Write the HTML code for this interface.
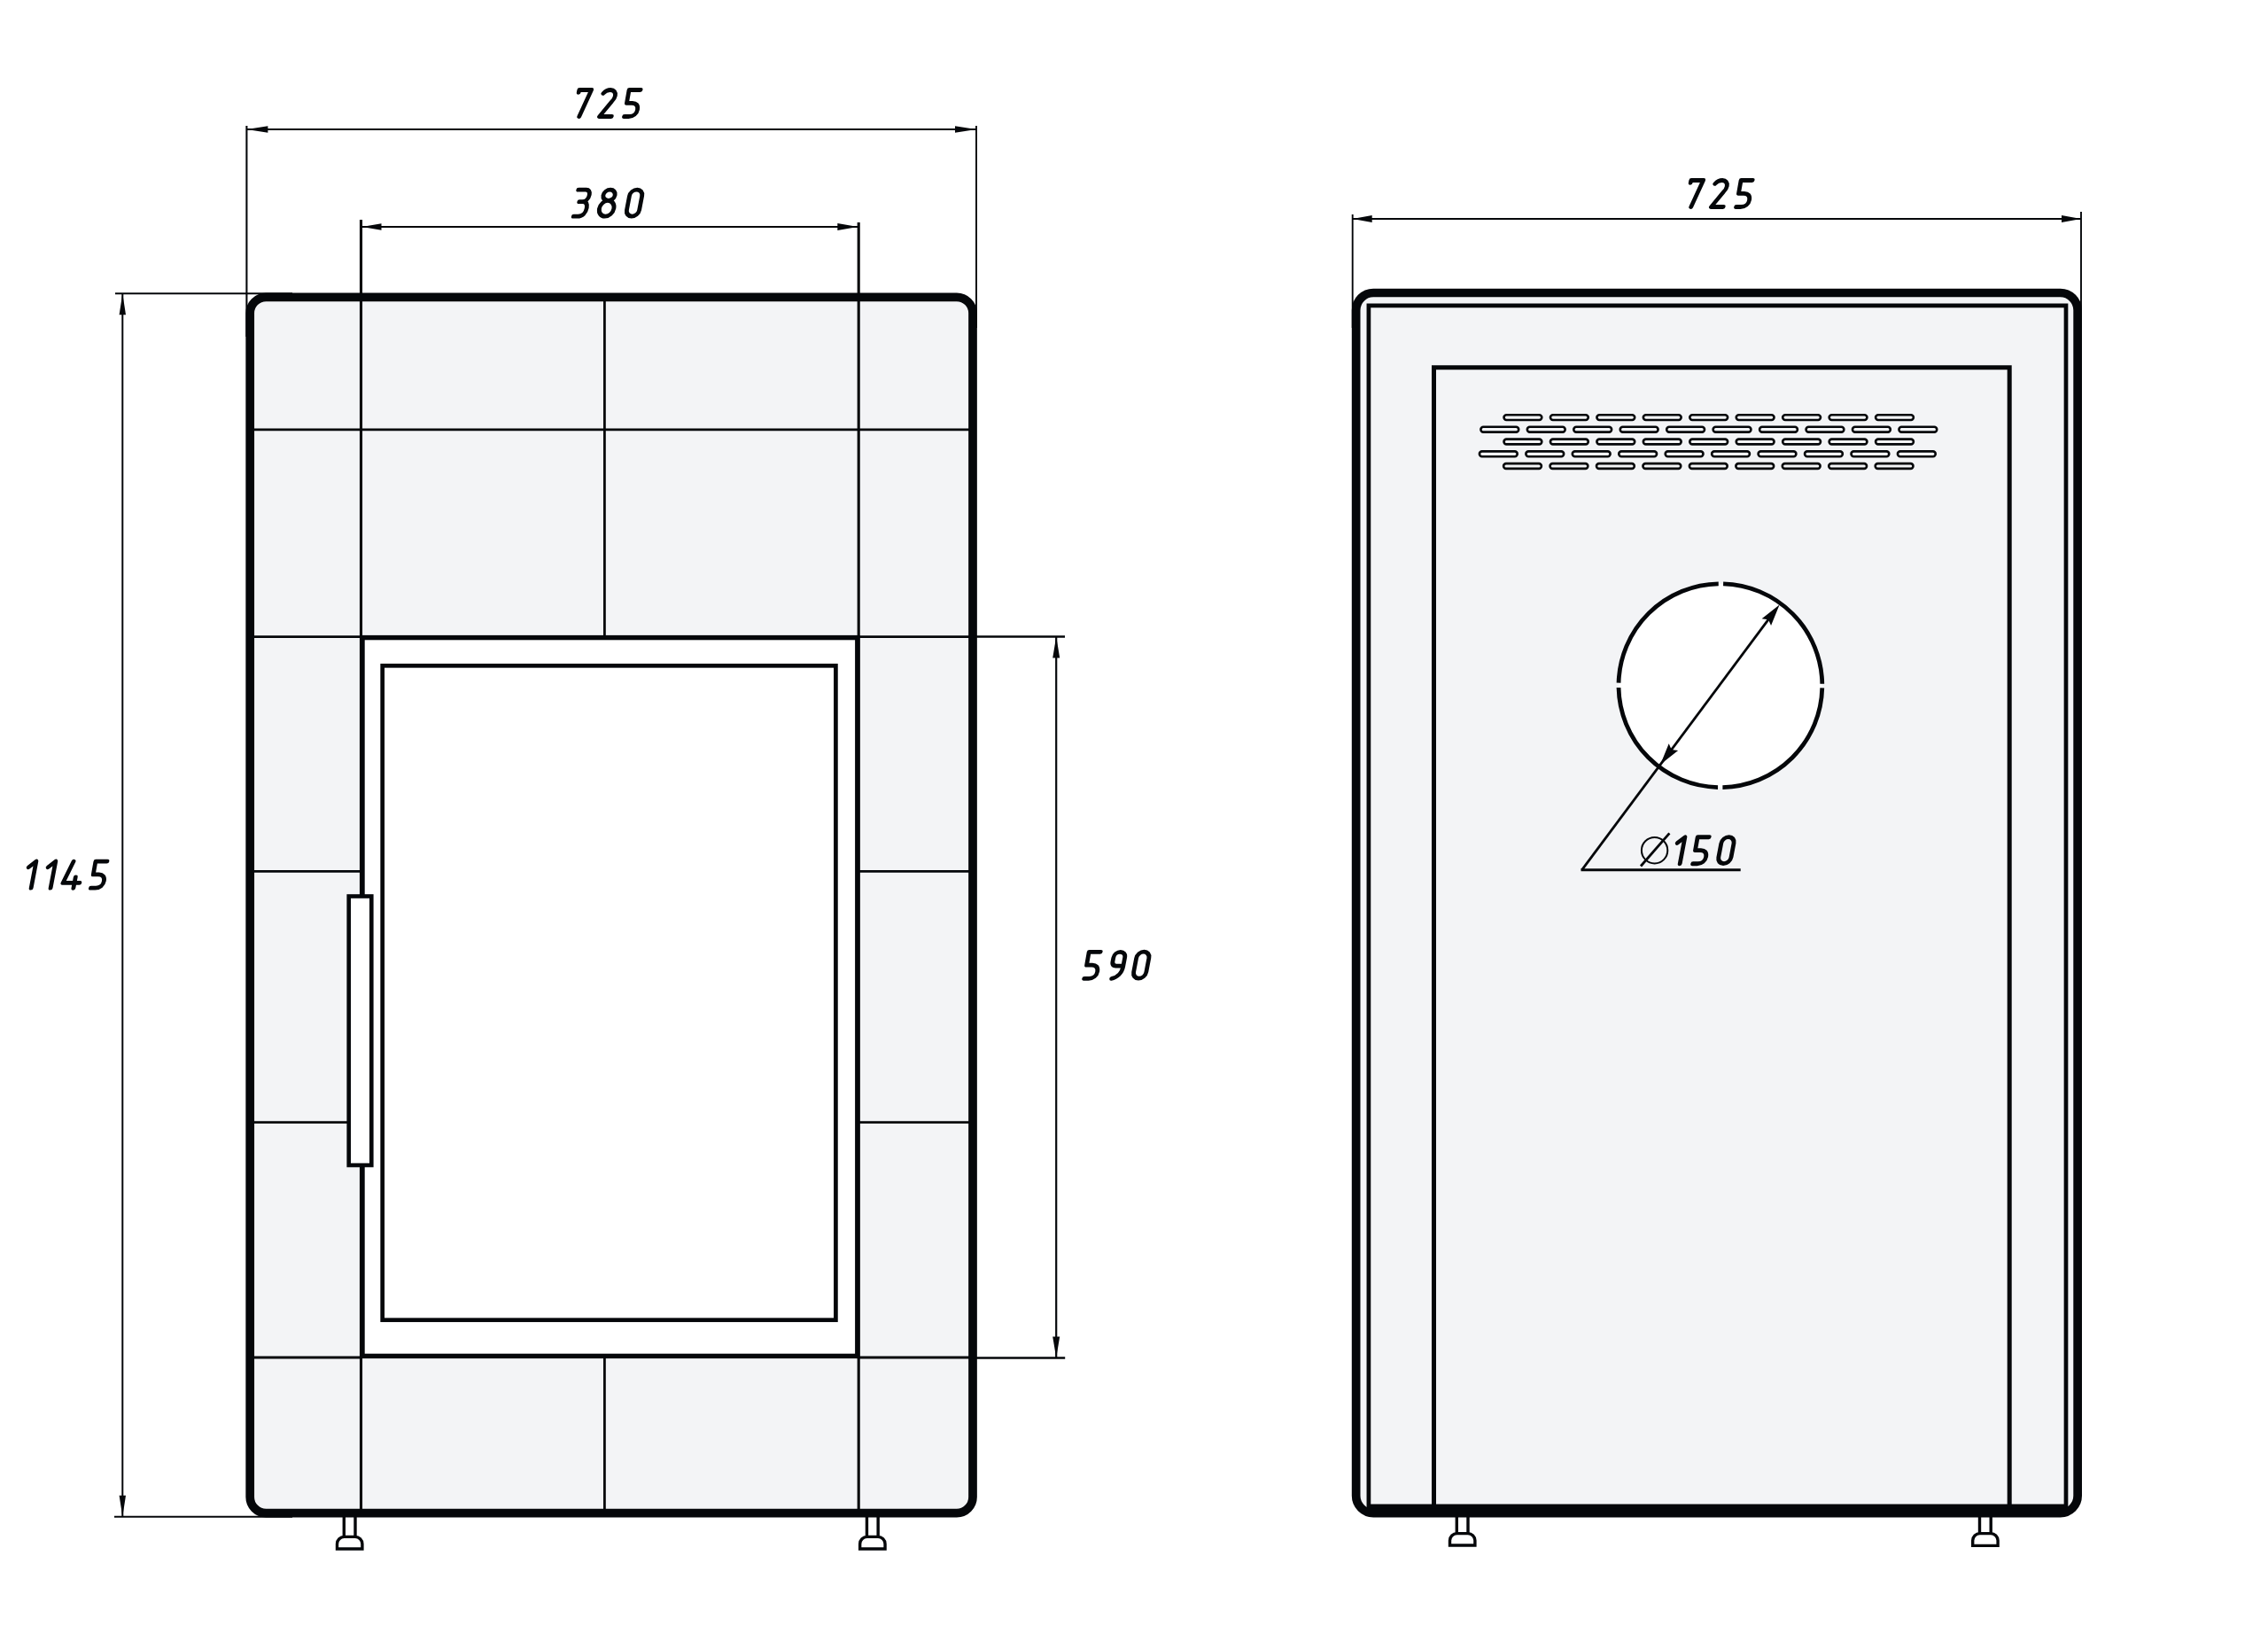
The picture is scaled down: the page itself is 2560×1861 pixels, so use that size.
<!DOCTYPE html><html><head><meta charset="utf-8"><style>html,body{margin:0;padding:0;background:#fff;width:2560px;height:1861px;overflow:hidden}svg{display:block}</style></head><body>
<svg width="2560" height="1861" viewBox="0 0 2560 1861">
<rect width="2560" height="1861" fill="#fff"/>
<rect x="282.2" y="335.3" width="815.8" height="1372.3" rx="18.1" fill="#f3f4f6"/>
<line x1="282.2" y1="484.8" x2="1098.0" y2="484.8" stroke="#05070a" stroke-width="2.8" stroke-linecap="butt"/>
<line x1="282.2" y1="718.6" x2="409" y2="718.6" stroke="#05070a" stroke-width="2.8" stroke-linecap="butt"/>
<line x1="967.8" y1="718.6" x2="1098.0" y2="718.6" stroke="#05070a" stroke-width="2.8" stroke-linecap="butt"/>
<line x1="282.2" y1="983.4" x2="409" y2="983.4" stroke="#05070a" stroke-width="2.8" stroke-linecap="butt"/>
<line x1="967.8" y1="983.4" x2="1098.0" y2="983.4" stroke="#05070a" stroke-width="2.8" stroke-linecap="butt"/>
<line x1="282.2" y1="1266.6" x2="409" y2="1266.6" stroke="#05070a" stroke-width="2.8" stroke-linecap="butt"/>
<line x1="967.8" y1="1266.6" x2="1098.0" y2="1266.6" stroke="#05070a" stroke-width="2.8" stroke-linecap="butt"/>
<line x1="282.2" y1="1532.0" x2="409" y2="1532.0" stroke="#05070a" stroke-width="2.8" stroke-linecap="butt"/>
<line x1="967.8" y1="1532.0" x2="1098.0" y2="1532.0" stroke="#05070a" stroke-width="2.8" stroke-linecap="butt"/>
<line x1="682.4" y1="335.3" x2="682.4" y2="718.6" stroke="#05070a" stroke-width="2.8" stroke-linecap="butt"/>
<line x1="682.4" y1="1531" x2="682.4" y2="1707.6" stroke="#05070a" stroke-width="2.8" stroke-linecap="butt"/>
<line x1="407.5" y1="248.0" x2="407.5" y2="1707.6" stroke="#05070a" stroke-width="3.1" stroke-linecap="butt"/>
<line x1="969.2" y1="251.0" x2="969.2" y2="1707.6" stroke="#05070a" stroke-width="3.1" stroke-linecap="butt"/>
<rect x="409" y="719.6" width="558.8" height="810.8000000000001" fill="#fff" stroke="#05070a" stroke-width="5.4"/>
<rect x="431.7" y="751.3" width="511.7" height="738.4000000000001" fill="#fff" stroke="#05070a" stroke-width="4.7"/>
<rect x="393.7" y="1011.5" width="25.600000000000023" height="303.5" fill="#fff" stroke="#05070a" stroke-width="4.6"/>
<rect x="282.2" y="335.3" width="815.8" height="1372.3" rx="18.1" fill="none" stroke="#05070a" stroke-width="9.7"/>
<path d="M388.3,1712 V1734.4 M401.0,1712 V1734.4" stroke="#05070a" stroke-width="3.4" fill="none"/><path d="M380.5,1748 V1742.4 A8,8 0 0 1 388.5,1734.4 H400.9 A8,8 0 0 1 408.9,1742.4 V1748 Z" stroke="#05070a" stroke-width="3.4" fill="#fff"/>
<path d="M978.45,1712 V1734.4 M991.15,1712 V1734.4" stroke="#05070a" stroke-width="3.4" fill="none"/><path d="M970.65,1748 V1742.4 A8,8 0 0 1 978.65,1734.4 H991.0500000000001 A8,8 0 0 1 999.0500000000001,1742.4 V1748 Z" stroke="#05070a" stroke-width="3.4" fill="#fff"/>
<line x1="278.4" y1="142" x2="278.4" y2="380" stroke="#05070a" stroke-width="2.1" stroke-linecap="butt"/>
<line x1="1102.0" y1="142" x2="1102.0" y2="370" stroke="#05070a" stroke-width="1.9" stroke-linecap="butt"/>
<line x1="278.4" y1="146" x2="1102.0" y2="146" stroke="#05070a" stroke-width="2.0" stroke-linecap="butt"/>
<path d="M278.40,146.00 L302.40,142.30 L302.40,149.70 Z" fill="#05070a"/>
<path d="M1102.00,146.00 L1078.00,149.70 L1078.00,142.30 Z" fill="#05070a"/>
<line x1="407.6" y1="256.0" x2="969.0" y2="256.0" stroke="#05070a" stroke-width="2.0" stroke-linecap="butt"/>
<path d="M408.50,256.00 L430.50,252.20 L430.50,259.80 Z" fill="#05070a"/>
<path d="M968.30,256.00 L945.30,259.90 L945.30,252.10 Z" fill="#05070a"/>
<line x1="130" y1="331.15" x2="330" y2="331.15" stroke="#05070a" stroke-width="2.0" stroke-linecap="butt"/>
<line x1="129" y1="1711.85" x2="330" y2="1711.85" stroke="#05070a" stroke-width="2.0" stroke-linecap="butt"/>
<line x1="138.3" y1="331.15" x2="138.3" y2="1711.85" stroke="#05070a" stroke-width="2.0" stroke-linecap="butt"/>
<path d="M138.30,331.15 L142.00,355.15 L134.60,355.15 Z" fill="#05070a"/>
<path d="M138.30,1711.85 L134.60,1687.85 L142.00,1687.85 Z" fill="#05070a"/>
<line x1="1098" y1="718.5" x2="1202" y2="718.5" stroke="#05070a" stroke-width="2.3" stroke-linecap="butt"/>
<line x1="1098" y1="1532.4" x2="1202.2" y2="1532.4" stroke="#05070a" stroke-width="2.5" stroke-linecap="butt"/>
<line x1="1192.2" y1="718.5" x2="1192.2" y2="1532.4" stroke="#05070a" stroke-width="2.2" stroke-linecap="butt"/>
<path d="M1192.20,718.50 L1196.20,742.50 L1188.20,742.50 Z" fill="#05070a"/>
<path d="M1192.20,1532.40 L1188.20,1508.40 L1196.20,1508.40 Z" fill="#05070a"/>
<rect x="1530.65" y="330.5" width="814.5" height="1377.1" rx="19.5" fill="#f3f4f6"/>
<path d="M1544.9,1702 V344.8 H2332 V1702" fill="none" stroke="#05070a" stroke-width="4.7"/>
<line x1="1544" y1="1700.6" x2="2333" y2="1700.6" stroke="#05070a" stroke-width="6" stroke-linecap="butt"/>
<path d="M1618.5,1702 V414.7 H2268.2 V1702" fill="none" stroke="#05070a" stroke-width="5"/>
<rect x="1530.65" y="330.5" width="814.5" height="1377.1" rx="19.5" fill="none" stroke="#05070a" stroke-width="9.7"/>
<rect x="1697.50" y="468.20" width="42.8" height="5.8" rx="2.9" fill="#f3f4f6" stroke="#05070a" stroke-width="2.6"/>
<rect x="1749.95" y="468.20" width="42.8" height="5.8" rx="2.9" fill="#f3f4f6" stroke="#05070a" stroke-width="2.6"/>
<rect x="1802.40" y="468.20" width="42.8" height="5.8" rx="2.9" fill="#f3f4f6" stroke="#05070a" stroke-width="2.6"/>
<rect x="1854.85" y="468.20" width="42.8" height="5.8" rx="2.9" fill="#f3f4f6" stroke="#05070a" stroke-width="2.6"/>
<rect x="1907.30" y="468.20" width="42.8" height="5.8" rx="2.9" fill="#f3f4f6" stroke="#05070a" stroke-width="2.6"/>
<rect x="1959.75" y="468.20" width="42.8" height="5.8" rx="2.9" fill="#f3f4f6" stroke="#05070a" stroke-width="2.6"/>
<rect x="2012.20" y="468.20" width="42.8" height="5.8" rx="2.9" fill="#f3f4f6" stroke="#05070a" stroke-width="2.6"/>
<rect x="2064.65" y="468.20" width="42.8" height="5.8" rx="2.9" fill="#f3f4f6" stroke="#05070a" stroke-width="2.6"/>
<rect x="2117.10" y="468.20" width="42.8" height="5.8" rx="2.9" fill="#f3f4f6" stroke="#05070a" stroke-width="2.6"/>
<rect x="1671.40" y="481.80" width="42.8" height="5.8" rx="2.9" fill="#f3f4f6" stroke="#05070a" stroke-width="2.6"/>
<rect x="1723.85" y="481.80" width="42.8" height="5.8" rx="2.9" fill="#f3f4f6" stroke="#05070a" stroke-width="2.6"/>
<rect x="1776.30" y="481.80" width="42.8" height="5.8" rx="2.9" fill="#f3f4f6" stroke="#05070a" stroke-width="2.6"/>
<rect x="1828.75" y="481.80" width="42.8" height="5.8" rx="2.9" fill="#f3f4f6" stroke="#05070a" stroke-width="2.6"/>
<rect x="1881.20" y="481.80" width="42.8" height="5.8" rx="2.9" fill="#f3f4f6" stroke="#05070a" stroke-width="2.6"/>
<rect x="1933.65" y="481.80" width="42.8" height="5.8" rx="2.9" fill="#f3f4f6" stroke="#05070a" stroke-width="2.6"/>
<rect x="1986.10" y="481.80" width="42.8" height="5.8" rx="2.9" fill="#f3f4f6" stroke="#05070a" stroke-width="2.6"/>
<rect x="2038.55" y="481.80" width="42.8" height="5.8" rx="2.9" fill="#f3f4f6" stroke="#05070a" stroke-width="2.6"/>
<rect x="2091.00" y="481.80" width="42.8" height="5.8" rx="2.9" fill="#f3f4f6" stroke="#05070a" stroke-width="2.6"/>
<rect x="2143.45" y="481.80" width="42.8" height="5.8" rx="2.9" fill="#f3f4f6" stroke="#05070a" stroke-width="2.6"/>
<rect x="1697.50" y="495.60" width="42.8" height="5.8" rx="2.9" fill="#f3f4f6" stroke="#05070a" stroke-width="2.6"/>
<rect x="1749.95" y="495.60" width="42.8" height="5.8" rx="2.9" fill="#f3f4f6" stroke="#05070a" stroke-width="2.6"/>
<rect x="1802.40" y="495.60" width="42.8" height="5.8" rx="2.9" fill="#f3f4f6" stroke="#05070a" stroke-width="2.6"/>
<rect x="1854.85" y="495.60" width="42.8" height="5.8" rx="2.9" fill="#f3f4f6" stroke="#05070a" stroke-width="2.6"/>
<rect x="1907.30" y="495.60" width="42.8" height="5.8" rx="2.9" fill="#f3f4f6" stroke="#05070a" stroke-width="2.6"/>
<rect x="1959.75" y="495.60" width="42.8" height="5.8" rx="2.9" fill="#f3f4f6" stroke="#05070a" stroke-width="2.6"/>
<rect x="2012.20" y="495.60" width="42.8" height="5.8" rx="2.9" fill="#f3f4f6" stroke="#05070a" stroke-width="2.6"/>
<rect x="2064.65" y="495.60" width="42.8" height="5.8" rx="2.9" fill="#f3f4f6" stroke="#05070a" stroke-width="2.6"/>
<rect x="2117.10" y="495.60" width="42.8" height="5.8" rx="2.9" fill="#f3f4f6" stroke="#05070a" stroke-width="2.6"/>
<rect x="1669.90" y="509.40" width="42.8" height="5.8" rx="2.9" fill="#f3f4f6" stroke="#05070a" stroke-width="2.6"/>
<rect x="1722.35" y="509.40" width="42.8" height="5.8" rx="2.9" fill="#f3f4f6" stroke="#05070a" stroke-width="2.6"/>
<rect x="1774.80" y="509.40" width="42.8" height="5.8" rx="2.9" fill="#f3f4f6" stroke="#05070a" stroke-width="2.6"/>
<rect x="1827.25" y="509.40" width="42.8" height="5.8" rx="2.9" fill="#f3f4f6" stroke="#05070a" stroke-width="2.6"/>
<rect x="1879.70" y="509.40" width="42.8" height="5.8" rx="2.9" fill="#f3f4f6" stroke="#05070a" stroke-width="2.6"/>
<rect x="1932.15" y="509.40" width="42.8" height="5.8" rx="2.9" fill="#f3f4f6" stroke="#05070a" stroke-width="2.6"/>
<rect x="1984.60" y="509.40" width="42.8" height="5.8" rx="2.9" fill="#f3f4f6" stroke="#05070a" stroke-width="2.6"/>
<rect x="2037.05" y="509.40" width="42.8" height="5.8" rx="2.9" fill="#f3f4f6" stroke="#05070a" stroke-width="2.6"/>
<rect x="2089.50" y="509.40" width="42.8" height="5.8" rx="2.9" fill="#f3f4f6" stroke="#05070a" stroke-width="2.6"/>
<rect x="2141.95" y="509.40" width="42.8" height="5.8" rx="2.9" fill="#f3f4f6" stroke="#05070a" stroke-width="2.6"/>
<rect x="1697.10" y="523.10" width="42.8" height="5.8" rx="2.9" fill="#f3f4f6" stroke="#05070a" stroke-width="2.6"/>
<rect x="1749.55" y="523.10" width="42.8" height="5.8" rx="2.9" fill="#f3f4f6" stroke="#05070a" stroke-width="2.6"/>
<rect x="1802.00" y="523.10" width="42.8" height="5.8" rx="2.9" fill="#f3f4f6" stroke="#05070a" stroke-width="2.6"/>
<rect x="1854.45" y="523.10" width="42.8" height="5.8" rx="2.9" fill="#f3f4f6" stroke="#05070a" stroke-width="2.6"/>
<rect x="1906.90" y="523.10" width="42.8" height="5.8" rx="2.9" fill="#f3f4f6" stroke="#05070a" stroke-width="2.6"/>
<rect x="1959.35" y="523.10" width="42.8" height="5.8" rx="2.9" fill="#f3f4f6" stroke="#05070a" stroke-width="2.6"/>
<rect x="2011.80" y="523.10" width="42.8" height="5.8" rx="2.9" fill="#f3f4f6" stroke="#05070a" stroke-width="2.6"/>
<rect x="2064.25" y="523.10" width="42.8" height="5.8" rx="2.9" fill="#f3f4f6" stroke="#05070a" stroke-width="2.6"/>
<rect x="2116.70" y="523.10" width="42.8" height="5.8" rx="2.9" fill="#f3f4f6" stroke="#05070a" stroke-width="2.6"/>
<circle cx="1941.9" cy="773.7" r="114.9" fill="#fff" stroke="none"/>
<circle cx="1941.9" cy="773.7" r="114.9" fill="none" stroke="#05070a" stroke-width="4.8" stroke-dasharray="174.984 5.5" stroke-dashoffset="-2.75"/>
<line x1="1785.5" y1="981.8" x2="1996.65" y2="698.44" stroke="#05070a" stroke-width="2.8"/>
<path d="M2008.60,682.40 L1999.05,706.09 L1996.05,699.24 L1988.63,698.32 Z" fill="#05070a"/>
<path d="M1874.16,862.82 L1883.71,839.13 L1886.71,845.98 L1894.13,846.90 Z" fill="#05070a"/>
<line x1="1784.5" y1="981.8" x2="1964.7" y2="981.8" stroke="#05070a" stroke-width="3.0" stroke-linecap="butt"/>
<circle cx="1867.6" cy="959.7" r="14.7" fill="none" stroke="#05070a" stroke-width="2.0"/>
<line x1="1852" y1="977.5" x2="1884.4" y2="940.4" stroke="#05070a" stroke-width="2.8" stroke-linecap="butt"/>
<path d="M1644.3,1712 V1730.6 M1657.0,1712 V1730.6" stroke="#05070a" stroke-width="3.4" fill="none"/><path d="M1636.5,1744 V1738.6 A8,8 0 0 1 1644.5,1730.6 H1656.9 A8,8 0 0 1 1664.9,1738.6 V1744 Z" stroke="#05070a" stroke-width="3.4" fill="#fff"/>
<path d="M2234.5,1712 V1730.6 M2247.2000000000003,1712 V1730.6" stroke="#05070a" stroke-width="3.4" fill="none"/><path d="M2226.7000000000003,1744.4 V1738.6 A8,8 0 0 1 2234.7000000000003,1730.6 H2247.1 A8,8 0 0 1 2255.1,1738.6 V1744.4 Z" stroke="#05070a" stroke-width="3.4" fill="#fff"/>
<line x1="1526.7" y1="242" x2="1526.7" y2="370" stroke="#05070a" stroke-width="1.9" stroke-linecap="butt"/>
<line x1="2349.0" y1="239" x2="2349.0" y2="370" stroke="#05070a" stroke-width="1.9" stroke-linecap="butt"/>
<line x1="1526.7" y1="247" x2="2349.0" y2="247" stroke="#05070a" stroke-width="2.0" stroke-linecap="butt"/>
<path d="M1526.70,247.00 L1548.70,243.10 L1548.70,250.90 Z" fill="#05070a"/>
<path d="M2349.00,247.00 L2327.00,250.90 L2327.00,243.10 Z" fill="#05070a"/>
<path d="M0,2.8 V0 H13.8 L5.7,30" transform="translate(653.78,101.50) skewX(-10.758) scale(1.0000)" fill="none" stroke="#05070a" stroke-width="4.80" stroke-linecap="round" stroke-linejoin="round"/>
<path d="M-0.6,3.8 C1.2,1.2 3.6,0 6.6,0 C10.6,0 13.4,2.8 13.4,6.8 C13.4,9.6 12.2,11.6 10.6,13.4 L0,30 H13.7" transform="translate(682.25,101.50) skewX(-10.758) scale(1.0000)" fill="none" stroke="#05070a" stroke-width="4.80" stroke-linecap="round" stroke-linejoin="round"/>
<path d="M13,0 H0 L0.2,14.8 H6.2 C10.6,14.8 13.7,17.6 13.7,22.2 C13.7,26.8 10.6,30 5.6,30 H0.2" transform="translate(710.05,101.50) skewX(-10.758) scale(1.0000)" fill="none" stroke="#05070a" stroke-width="4.80" stroke-linecap="round" stroke-linejoin="round"/>
<path d="M0,0 H8.6 C11.8,0 13.6,2.4 13.6,5.8 C13.6,10.4 10.6,13.5 6.4,13.5 H3.6 M6.4,13.5 H8 C11.6,13.5 13.4,16.6 13.4,20.6 C13.4,26.2 10.4,30 5,30 H0.2" transform="translate(652.75,214.20) skewX(-10.758) scale(1.0000)" fill="none" stroke="#05070a" stroke-width="4.80" stroke-linecap="round" stroke-linejoin="round"/>
<path d="M1.6,6.1 A6.6,6.1 0 1 0 14.8,6.1 A6.6,6.1 0 1 0 1.6,6.1 Z M0,21.1 A8.2,8.9 0 1 0 16.4,21.1 A8.2,8.9 0 1 0 0,21.1 Z" transform="translate(680.50,214.20) skewX(-10.758) scale(1.0000)" fill="none" stroke="#05070a" stroke-width="4.80" stroke-linecap="round" stroke-linejoin="round"/>
<path d="M0,7.1 V22.9 A7.1,7.1 0 0 0 14.2,22.9 V7.1 A7.1,7.1 0 0 0 0,7.1 Z" transform="translate(711.80,214.07) skewX(-10.758) scale(1.0000)" fill="none" stroke="#05070a" stroke-width="4.80" stroke-linecap="round" stroke-linejoin="round"/>
<path d="M0,6.6 L7.4,0 V30" transform="translate(33.45,972.15) skewX(-10.758) scale(1.0000)" fill="none" stroke="#05070a" stroke-width="4.80" stroke-linecap="round" stroke-linejoin="round"/>
<path d="M0,6.6 L7.4,0 V30" transform="translate(55.40,972.15) skewX(-10.758) scale(1.0000)" fill="none" stroke="#05070a" stroke-width="4.80" stroke-linecap="round" stroke-linejoin="round"/>
<path d="M7.4,0 L0,24.2 H18.8 M13,17.7 V30" transform="translate(75.60,972.27) skewX(-10.758) scale(1.0000)" fill="none" stroke="#05070a" stroke-width="4.80" stroke-linecap="round" stroke-linejoin="round"/>
<path d="M13,0 H0 L0.2,14.8 H6.2 C10.6,14.8 13.7,17.6 13.7,22.2 C13.7,26.8 10.6,30 5.6,30 H0.2" transform="translate(107.90,972.15) skewX(-10.758) scale(1.0000)" fill="none" stroke="#05070a" stroke-width="4.80" stroke-linecap="round" stroke-linejoin="round"/>
<path d="M13,0 H0 L0.2,14.8 H6.2 C10.6,14.8 13.7,17.6 13.7,22.2 C13.7,26.8 10.6,30 5.6,30 H0.2" transform="translate(1229.20,1074.30) skewX(-10.758) scale(1.0000)" fill="none" stroke="#05070a" stroke-width="4.80" stroke-linecap="round" stroke-linejoin="round"/>
<path d="M12.8,6.4 A6.4,6.4 0 0 0 0,6.4 V10.8 C0,14 1.6,15.8 4.6,15.8 H12.8 M12.8,6.4 V17 C12.8,24 8.4,28.8 2.3,30" transform="translate(1258.05,1074.30) skewX(-10.758) scale(1.0000)" fill="none" stroke="#05070a" stroke-width="4.80" stroke-linecap="round" stroke-linejoin="round"/>
<path d="M0,7.1 V22.9 A7.1,7.1 0 0 0 14.2,22.9 V7.1 A7.1,7.1 0 0 0 0,7.1 Z" transform="translate(1284.00,1074.18) skewX(-10.758) scale(1.0000)" fill="none" stroke="#05070a" stroke-width="4.80" stroke-linecap="round" stroke-linejoin="round"/>
<path d="M0,2.8 V0 H13.8 L5.7,30" transform="translate(1908.78,203.50) skewX(-10.758) scale(1.0000)" fill="none" stroke="#05070a" stroke-width="4.80" stroke-linecap="round" stroke-linejoin="round"/>
<path d="M-0.6,3.8 C1.2,1.2 3.6,0 6.6,0 C10.6,0 13.4,2.8 13.4,6.8 C13.4,9.6 12.2,11.6 10.6,13.4 L0,30 H13.7" transform="translate(1937.15,203.50) skewX(-10.758) scale(1.0000)" fill="none" stroke="#05070a" stroke-width="4.80" stroke-linecap="round" stroke-linejoin="round"/>
<path d="M13,0 H0 L0.2,14.8 H6.2 C10.6,14.8 13.7,17.6 13.7,22.2 C13.7,26.8 10.6,30 5.6,30 H0.2" transform="translate(1965.10,203.50) skewX(-10.758) scale(1.0000)" fill="none" stroke="#05070a" stroke-width="4.80" stroke-linecap="round" stroke-linejoin="round"/>
<path d="M0,6.6 L7.4,0 V30" transform="translate(1894.50,944.75) skewX(-10.758) scale(1.0000)" fill="none" stroke="#05070a" stroke-width="4.80" stroke-linecap="round" stroke-linejoin="round"/>
<path d="M13,0 H0 L0.2,14.8 H6.2 C10.6,14.8 13.7,17.6 13.7,22.2 C13.7,26.8 10.6,30 5.6,30 H0.2" transform="translate(1916.15,944.75) skewX(-10.758) scale(1.0000)" fill="none" stroke="#05070a" stroke-width="4.80" stroke-linecap="round" stroke-linejoin="round"/>
<path d="M0,7.1 V22.9 A7.1,7.1 0 0 0 14.2,22.9 V7.1 A7.1,7.1 0 0 0 0,7.1 Z" transform="translate(1944.15,944.62) skewX(-10.758) scale(1.0000)" fill="none" stroke="#05070a" stroke-width="4.80" stroke-linecap="round" stroke-linejoin="round"/>
</svg></body></html>
